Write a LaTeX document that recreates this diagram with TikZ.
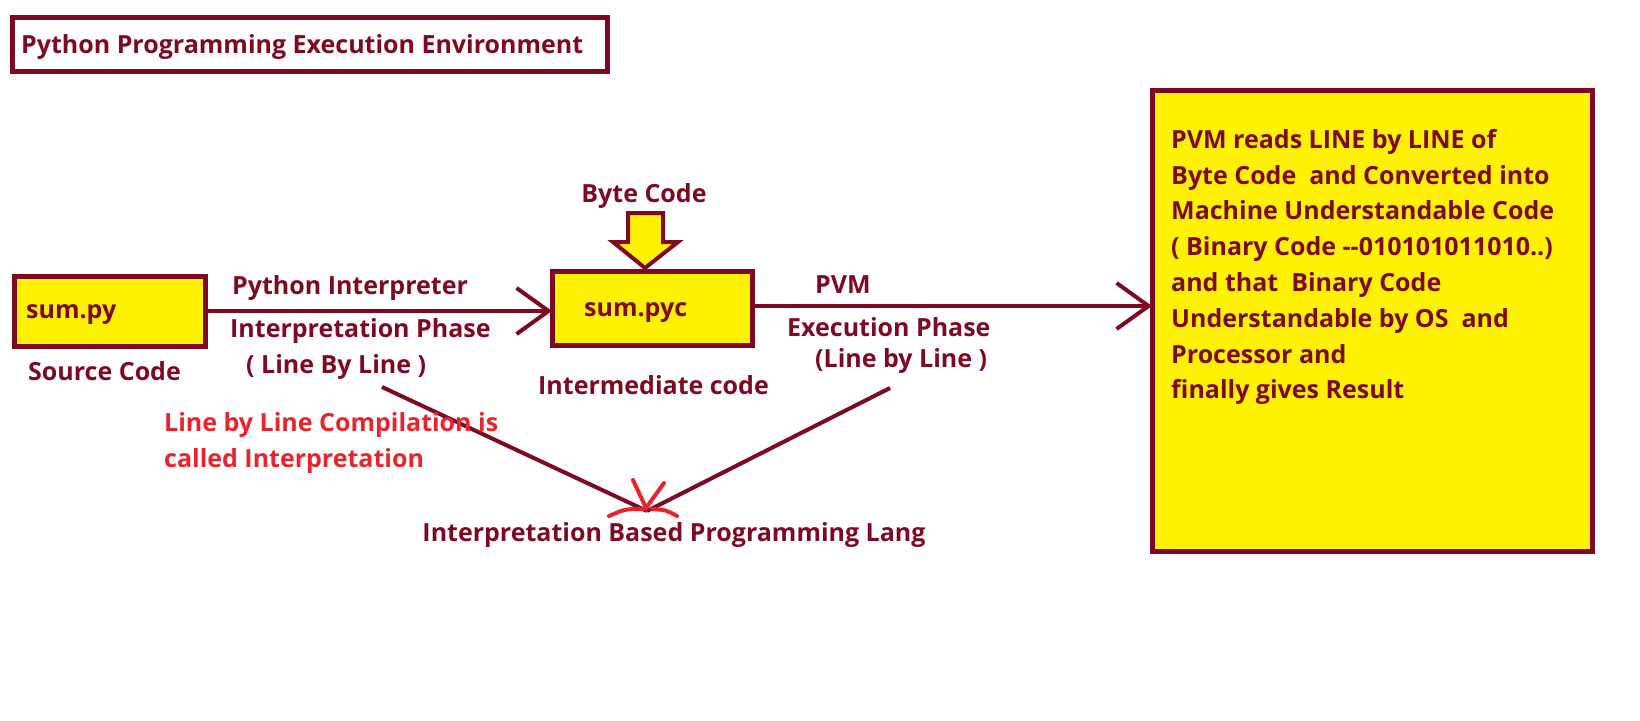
\documentclass[tikz,border=0pt]{standalone}
\usepackage{fontspec}
\setmainfont{Open Sans}
\usetikzlibrary{arrows.meta}
\definecolor{maroon}{HTML}{7D0A22}
\definecolor{hiyellow}{HTML}{FFF200}
\definecolor{notered}{HTML}{E8252D}

\begin{document}
\begin{tikzpicture}[x=1pt,y=-1pt]
        \tikzstyle{every node}=[inner sep=0pt, yshift=-3pt, text=maroon, font=\fontsize{25}{35.8}\selectfont\bfseries]
        \tikzstyle{label}=[anchor=west]
        \tikzstyle{filebox}=[draw=maroon, line width=5pt, fill=hiyellow]
        \tikzstyle{flow}=[draw=maroon, line width=4pt, -{Straight Barb[length=32pt,width=46pt,line width=4pt]}]
        \useasboundingbox (0,0) rectangle (1640,720);
        % title
        \draw[draw=maroon, line width=5pt] (12,17) rectangle (607,71);
        \node[label] (title) at (21,44) {Python Programming Execution Environment};
        % source file
        \draw[filebox] (14,276) rectangle (205,346);
        \node[label] (py) at (26,312) {sum.py};
        \node[label] (src) at (28,368) {Source Code};
        % byte code file
        \draw[filebox] (552,271) rectangle (752,345);
        \node[label] (pyc) at (584,310) {sum.pyc};
        \node[label] (mid) at (538,382) {Intermediate code};
        \node (byte) at (644,193) {Byte Code};
        \draw[filebox, line width=4pt, line join=miter] (628,213) -- (663,213) -- (663,242) -- (678,242)
                -- (645,268) -- (613,242) -- (628,242) -- cycle;
        % result box
        \draw[filebox] (1152,90) rectangle (1592,551);
        \node[anchor=north west, align=left] (pvmtext) at (1171,126) {PVM reads LINE by LINE of\\
                Byte Code~ and Converted into\\ Machine Understandable Code\\
                ( Binary Code -{}-010101011010..)\\ and that~ Binary Code\\
                Understandable by OS~ and\\ Processor and\\ finally gives Result};
        % flow arrows
        \coordinate (a1) at (205,308);
        \coordinate (a2) at (552,308);
        \draw[flow] (a1) -- (a2);
        \coordinate (b1) at (752,303);
        \coordinate (b2) at (1152,303);
        \draw[flow] (b1) -- (b2);
        \node[label] (interp) at (232,285) {Python Interpreter};
        \node[label] (iphase) at (230,328) {Interpretation Phase};
        \node[label] (iline) at (246,364) {( Line By Line )};
        \node[label] (pvm) at (815,282) {PVM};
        \node[label] (ephase) at (787,324) {Execution Phase};
        \node[label] (eline) at (815,358) {(Line by Line )};
        % meeting point
        \coordinate (meet) at (647,508);
        \coordinate (l1) at (382,384);
        \coordinate (l2) at (890,385);
        \draw[maroon, line width=4pt] (l1) -- (meet);
        \draw[maroon, line width=4pt] (l2) -- (meet);
        \draw[notered, line width=4pt, line cap=round] (633,480) -- (646,508) -- (664,483);
        \draw[notered, line width=4pt, line cap=round] (609,516) .. controls (625,509) .. (643,509);
        \draw[notered, line width=4pt, line cap=round] (652,509) .. controls (666,510) .. (677,516);
        \node[label, text=notered, align=left, anchor=north west] (note) at (164,409) {Line by Line Compilation is\\ called Interpretation};
        \node (lang) at (674,532) {Interpretation Based Programming Lang};
\end{tikzpicture}
\end{document}
